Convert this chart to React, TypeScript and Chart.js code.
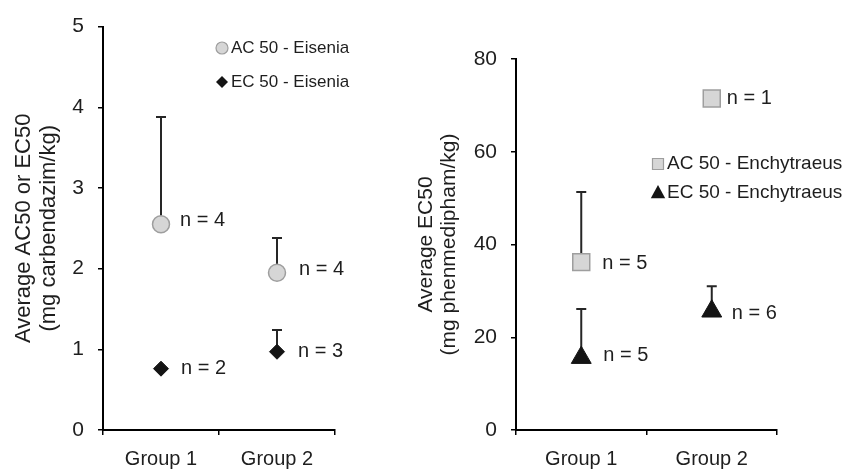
import React, { useEffect, useRef } from 'react';
import { Chart, registerables } from 'chart.js';

Chart.register(...registerables);

// ---------- DATA ----------
const groups = ['Group 1', 'Group 2'];

// Left panel: Eisenia, carbendazim (mg/kg)
const eiseniaAC50 = [2.55, 1.95];
const eiseniaAC50Upper = [3.88, 2.38];
const eiseniaAC50N = [4, 4];
const eiseniaEC50 = [0.76, 0.97];
const eiseniaEC50Upper = [null, 1.24];
const eiseniaEC50N = [2, 3];
const leftYTicks = { min: 0, max: 5, step: 1 };

// Right panel: Enchytraeus, phenmedipham (mg/kg)
const enchyAC50 = [36.2, 71.5];
const enchyAC50Upper = [51.3, null];
const enchyAC50N = [5, 1];
const enchyEC50 = [15.6, 25.6];
const enchyEC50Upper = [26.1, 31.0];
const enchyEC50N = [5, 6];
const rightYTicks = { min: 0, max: 80, step: 20 };

// ---------- STYLE ----------
const FONT = "'Liberation Sans', Arial, sans-serif";
const TEXT = '#1e1e1e';
const GREY_FILL = '#d6d6d6';
const GREY_STROKE = '#9e9e9e';
const DARK = '#141414';

function drawShape(ctx: CanvasRenderingContext2D, style: string, x: number, y: number, r: number, fill: string, stroke: string, lw: number) {
  ctx.save();
  ctx.beginPath();
  if (style === 'circle') {
    ctx.arc(x, y, r, 0, Math.PI * 2);
  } else if (style === 'diamond') {
    ctx.moveTo(x, y - r); ctx.lineTo(x + r, y); ctx.lineTo(x, y + r); ctx.lineTo(x - r, y); ctx.closePath();
  } else if (style === 'square') {
    ctx.rect(x - r, y - r, 2 * r, 2 * r);
  } else if (style === 'triangle') {
    ctx.moveTo(x, y - r); ctx.lineTo(x + r * 0.9, y + r * 0.65); ctx.lineTo(x - r * 0.9, y + r * 0.65); ctx.closePath();
  }
  ctx.fillStyle = fill;
  ctx.fill();
  if (lw > 0) { ctx.lineWidth = lw; ctx.strokeStyle = stroke; ctx.stroke(); }
  ctx.restore();
}

const errorBarPlugin = {
  id: 'errorBars',
  beforeDatasetsDraw(chart: any) {
    const ctx = chart.ctx;
    const yScale = chart.scales.y;
    chart.data.datasets.forEach((ds: any, i: number) => {
      if (!ds.upper) return;
      const meta = chart.getDatasetMeta(i);
      meta.data.forEach((pt: any, j: number) => {
        const u = ds.upper[j];
        if (u == null) return;
        const yu = yScale.getPixelForValue(u);
        ctx.save();
        ctx.strokeStyle = '#262626';
        ctx.lineWidth = 2;
        ctx.beginPath();
        ctx.moveTo(pt.x, pt.y);
        ctx.lineTo(pt.x, yu);
        ctx.moveTo(pt.x - 5, yu);
        ctx.lineTo(pt.x + 5, yu);
        ctx.stroke();
        ctx.restore();
      });
    });
  },
};

const nLabelPlugin = {
  id: 'nLabels',
  afterDatasetsDraw(chart: any) {
    const ctx = chart.ctx;
    chart.data.datasets.forEach((ds: any, i: number) => {
      if (!ds.nValues) return;
      const meta = chart.getDatasetMeta(i);
      meta.data.forEach((pt: any, j: number) => {
        const n = ds.nValues[j];
        if (n == null) return;
        const off = ds.nOffsets[j];
        ctx.save();
        ctx.font = `20px ${FONT}`;
        ctx.fillStyle = TEXT;
        ctx.textAlign = 'left';
        ctx.textBaseline = 'middle';
        ctx.fillText(`n = ${n}`, pt.x + off[0], pt.y + off[1]);
        ctx.restore();
      });
    });
  },
};

const floatLegendPlugin = {
  id: 'floatLegend',
  afterDraw(chart: any, _args: any, opts: any) {
    if (!opts || !opts.items) return;
    const ctx = chart.ctx;
    opts.items.forEach((it: any) => {
      drawShape(ctx, it.style, it.x, it.y, it.r, it.fill, it.stroke, it.lw);
      ctx.save();
      ctx.font = `${opts.fontSize}px ${FONT}`;
      ctx.fillStyle = TEXT;
      ctx.textAlign = 'left';
      ctx.textBaseline = 'middle';
      ctx.fillText(it.label, it.textX, it.y);
      ctx.restore();
    });
  },
};

function makeConfig(p: any) {
  return {
    type: 'line',
    data: {
      labels: groups,
      datasets: p.datasets,
    },
    options: {
      responsive: false,
      animation: false,
      devicePixelRatio: 1,
      layout: { padding: p.padding },
      plugins: {
        legend: { display: false },
        tooltip: { enabled: false },
        floatLegend: p.legend,
      },
      scales: {
        x: {
          type: 'category',
          offset: true,
          grid: { offset: true, drawOnChartArea: false, drawTicks: true, tickLength: 5, color: '#000', lineWidth: 1.5 },
          border: { display: true, color: '#000', width: 2 },
          ticks: { color: TEXT, font: { family: FONT, size: 20 }, padding: 12, maxRotation: 0 },
          afterFit: (s: any) => { s.height = 41; },
        },
        y: {
          min: p.yTicks.min,
          max: p.yTicks.max,
          ticks: { stepSize: p.yTicks.step, color: TEXT, font: { family: FONT, size: 21 }, padding: 14 },
          grid: { drawOnChartArea: false, drawTicks: true, tickLength: 5, color: '#000', lineWidth: 1.5 },
          border: { display: true, color: '#000', width: 2 },
          title: {
            display: true,
            text: p.title,
            color: TEXT,
            font: { family: FONT, size: p.titleSize, lineHeight: p.titleLH },
            padding: { top: p.titlePad, bottom: 0 },
          },
          afterFit: (s: any) => { s.width = p.yWidth; },
        },
      },
    },
    plugins: [errorBarPlugin, nLabelPlugin, floatLegendPlugin],
  };
}

const leftConfig = () => makeConfig({
  padding: { left: 0, right: 65, top: 22, bottom: 0 },
  yWidth: 103,
  yTicks: leftYTicks,
  title: ['Average AC50 or EC50', '(mg carbendazim/kg)'],
  titleSize: 22,
  titleLH: 1.15,
  titlePad: 11,
  legend: {
    fontSize: 17,
    items: [
      { label: 'AC 50 - Eisenia', style: 'circle', x: 222, y: 48, r: 6, fill: GREY_FILL, stroke: GREY_STROKE, lw: 1.2, textX: 231 },
      { label: 'EC 50 - Eisenia', style: 'diamond', x: 222, y: 82, r: 6, fill: DARK, stroke: DARK, lw: 0, textX: 231 },
    ],
  },
  datasets: [
    {
      label: 'AC 50 - Eisenia',
      data: eiseniaAC50,
      upper: eiseniaAC50Upper,
      nValues: eiseniaAC50N,
      nOffsets: [[19, -4], [22, -3]],
      showLine: false,
      pointStyle: 'circle',
      pointRadius: 8.5,
      pointBackgroundColor: GREY_FILL,
      pointBorderColor: GREY_STROKE,
      pointBorderWidth: 1.5,
    },
    {
      label: 'EC 50 - Eisenia',
      data: eiseniaEC50,
      upper: eiseniaEC50Upper,
      nValues: eiseniaEC50N,
      nOffsets: [[20, 0], [21, 0]],
      showLine: false,
      pointStyle: 'rectRot',
      pointRadius: 7.5,
      pointBackgroundColor: DARK,
      pointBorderColor: DARK,
      pointBorderWidth: 1,
    },
  ],
});

const rightConfig = () => makeConfig({
  padding: { left: 0, right: 70, top: 59, bottom: 0 },
  yWidth: 116,
  yTicks: rightYTicks,
  title: ['Average EC50', '(mg phenmedipham/kg)'],
  titleSize: 21,
  titleLH: 1.1,
  titlePad: 14.4,
  legend: {
    fontSize: 19,
    items: [
      { label: 'AC 50 - Enchytraeus', style: 'square', x: 258, y: 164, r: 5.5, fill: GREY_FILL, stroke: GREY_STROKE, lw: 1.2, textX: 267 },
      { label: 'EC 50 - Enchytraeus', style: 'triangle', x: 258, y: 193, r: 8, fill: DARK, stroke: DARK, lw: 0, textX: 267 },
    ],
  },
  datasets: [
    {
      label: 'AC 50 - Enchytraeus',
      data: enchyAC50,
      upper: enchyAC50Upper,
      nValues: enchyAC50N,
      nOffsets: [[21, 1], [15, 0]],
      showLine: false,
      pointStyle: 'rect',
      pointRadius: 12,
      pointBackgroundColor: GREY_FILL,
      pointBorderColor: GREY_STROKE,
      pointBorderWidth: 1.5,
    },
    {
      label: 'EC 50 - Enchytraeus',
      data: enchyEC50,
      upper: enchyEC50Upper,
      nValues: enchyEC50N,
      nOffsets: [[22, -2], [20, 2]],
      showLine: false,
      pointStyle: 'triangle',
      pointRadius: 11.5,
      pointBackgroundColor: DARK,
      pointBorderColor: DARK,
      pointBorderWidth: 1,
    },
  ],
});

function ChartCanvas({ left, width, height, build }: { left: number; width: number; height: number; build: () => any }) {
  const ref = useRef<HTMLCanvasElement | null>(null);
  useEffect(() => {
    if (!ref.current) return;
    const chart = new Chart(ref.current, build());
    return () => chart.destroy();
  }, [build]);
  return (
    <div style={{ position: 'absolute', left, top: 0, width, height }}>
      <canvas ref={ref} width={width} height={height} style={{ width, height, display: 'block' }} />
    </div>
  );
}

export default function App() {
  return (
    <div style={{ position: 'absolute', left: 0, top: 0, width: 847, height: 471, background: '#fff', overflow: 'hidden' }}>
      <ChartCanvas left={0} width={400} height={471} build={leftConfig} />
      <ChartCanvas left={400} width={447} height={471} build={rightConfig} />
    </div>
  );
}
